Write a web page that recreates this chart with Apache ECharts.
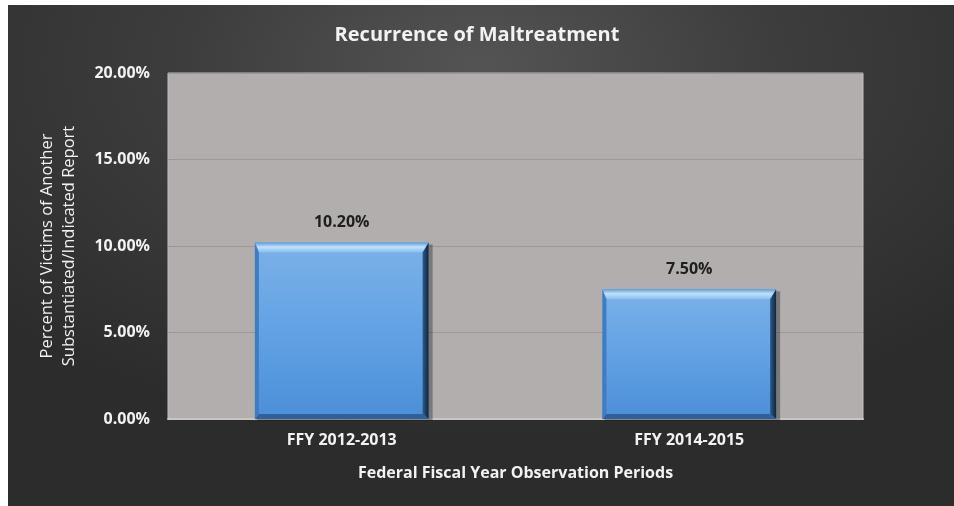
<!DOCTYPE html>
<html>
<head>
<meta charset="utf-8">
<script src="https://cdn.jsdelivr.net/npm/echarts@6/dist/echarts.min.js"></script>
<style>
  html, body { margin: 0; padding: 0; background: #ffffff; }
  #wrap { position: relative; width: 954px; height: 506px; overflow: hidden; }
  #panel {
    position: absolute; left: 8px; top: 5px; right: 0; bottom: 0;
    background: radial-gradient(ellipse 70% 75% at 50% 12%, #545454 0%, #3d3d3d 45%, #2c2c2c 100%);
  }
  #chart { position: absolute; left: 0; top: 0; width: 954px; height: 506px; }
</style>
</head>
<body>
<div id="wrap">
  <div id="panel"></div>
  <div id="chart"></div>
</div>
<script>
// Recurrence of maltreatment, by observation period (percent)
const periods = ['FFY 2012-2013', 'FFY 2014-2015'];
const recurrencePct = [10.2, 7.5];
const yTicks = [0, 5, 10, 15, 20];

const FONT = '"Open Sans", Lato, sans-serif';
const chart = echarts.init(document.getElementById('chart'), null, { renderer: 'canvas' });

// Beveled bar: gradient face with light top edge and dark right/bottom edges
function renderBevelBar(params, api) {
  const idx = api.value(0);
  const v = api.value(1);
  const topPt = api.coord([idx, v]);
  const basePt = api.coord([idx, 0]);
  const w = api.size([1, 0])[0] * 0.5;
  const L = topPt[0] - w / 2, R = L + w;
  const T = topPt[1], B = basePt[1];
  const bt = 10, br = 6, bb = 5, bl = 4;
  return {
    type: 'group',
    children: [
      { type: 'rect', shape: { x: L + 2, y: T + 2, width: w + 2, height: B - T },
        style: { fill: 'rgba(20,20,30,0.35)' } },
      { type: 'rect', shape: { x: L, y: T, width: w, height: B - T },
        style: { fill: new echarts.graphic.LinearGradient(0, 0, 0, 1, [
          { offset: 0, color: '#7cb1e8' },
          { offset: 0.5, color: '#62a2e4' },
          { offset: 1, color: '#4b8fd8' }
        ]) } },
      { type: 'polygon', shape: { points: [[L, T], [R, T], [R - br, T + bt], [L + bl, T + bt]] },
        style: { fill: new echarts.graphic.LinearGradient(0, 0, 0, 1, [
          { offset: 0, color: '#5f9bd6' },
          { offset: 0.45, color: '#c0e2fc' },
          { offset: 1, color: '#86bdee' }
        ]) } },
      { type: 'polygon', shape: { points: [[R, T], [R, B], [R - br, B - bb], [R - br, T + bt]] },
        style: { fill: new echarts.graphic.LinearGradient(0, 0, 1, 0, [
          { offset: 0, color: '#2c5a8c' },
          { offset: 1, color: '#12243a' }
        ]) } },
      { type: 'polygon', shape: { points: [[L, B], [R, B], [R - br, B - bb], [L + bl, B - bb]] },
        style: { fill: '#2f609a' } },
      { type: 'polygon', shape: { points: [[L, T], [L + bl, T + bt], [L + bl, B - bb], [L, B]] },
        style: { fill: '#3f7cc0' } },
      { type: 'text', style: {
          text: v.toFixed(2) + '%', x: (L + R) / 2, y: T - 20,
          align: 'center', verticalAlign: 'middle',
          fill: '#1e1e1e', font: 'bold 16px ' + FONT
        } }
    ]
  };
}

chart.setOption({
  backgroundColor: 'transparent',
  title: {
    text: 'Recurrence of Maltreatment',
    left: 'center', top: 20,
    textStyle: { color: '#f2f2f2', fontFamily: FONT, fontWeight: 'bold', fontSize: 20 }
  },
  grid: {
    left: 168, right: 91, top: 73, bottom: 87,
    show: true, backgroundColor: '#b2aead',
    borderColor: '#c4c0bf', borderWidth: 1
  },
  xAxis: {
    type: 'category',
    data: periods,
    name: 'Federal Fiscal Year Observation Periods',
    nameLocation: 'middle', nameGap: 46,
    nameTextStyle: { color: '#f2f2f2', fontFamily: FONT, fontWeight: 'bold', fontSize: 16 },
    axisLine: { show: true, lineStyle: { color: '#c9c6c5', width: 2 } },
    axisTick: { show: false },
    axisLabel: { color: '#f2f2f2', fontFamily: FONT, fontWeight: 'bold', fontSize: 16, margin: 13 }
  },
  yAxis: {
    type: 'value',
    min: yTicks[0], max: yTicks[yTicks.length - 1], interval: 5,
    name: 'Percent of Victims of Another\nSubstantiated/Indicated Report',
    nameLocation: 'middle', nameGap: 88, nameRotate: 90,
    nameTextStyle: { color: '#f2f2f2', fontFamily: FONT, fontSize: 16.5, lineHeight: 22 },
    axisLine: { show: false },
    axisTick: { show: false },
    splitLine: { lineStyle: { color: '#9c9897', width: 1 } },
    axisLabel: {
      color: '#f2f2f2', fontFamily: FONT, fontWeight: 'bold', fontSize: 16, margin: 18,
      formatter: v => v.toFixed(2) + '%'
    }
  },
  series: [{
    type: 'custom',
    renderItem: renderBevelBar,
    data: recurrencePct.map((v, i) => [i, v]),
    encode: { x: 0, y: 1 },
    clip: false
  }]
});
</script>
</body>
</html>
